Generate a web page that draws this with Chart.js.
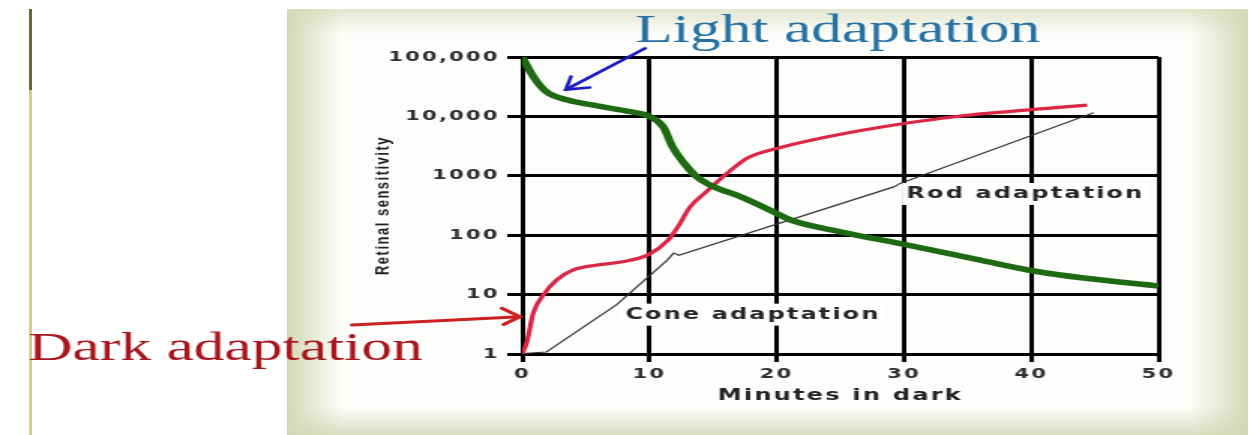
<!DOCTYPE html>
<html>
<head>
<meta charset="utf-8">
<title>Dark and light adaptation</title>
<script src="https://cdn.jsdelivr.net/npm/chart.js@4.4.1/dist/chart.umd.min.js"></script>
<style>
  html, body { margin: 0; padding: 0; background: #fff; }
  body { width: 1250px; height: 435px; position: relative; overflow: hidden; }
  .rule { position: absolute; left: 29px; width: 3px; }
  .rule.top { top: 9px; height: 81px; background: #6d6828; }
  .rule.bottom { top: 90px; height: 345px; background: #d3cf86; }
  #panel {
    position: absolute; left: 287px; top: 9px; width: 961px; height: 426px;
    background:
      linear-gradient(to right, #d3d9b5 0, rgba(255,255,255,0) 55px),
      linear-gradient(to left, #d3d9b5 0, rgba(255,255,255,0) 58px),
      linear-gradient(to bottom, #e2e6cd 0, rgba(255,255,255,0) 26px),
      linear-gradient(to top, #d9dec0 0, rgba(255,255,255,0) 28px),
      #fdfdfb;
  }
  /* the whole figure is stretched sideways, like the slide it came from */
  #stretch { position: absolute; left: 0; top: 0; transform-origin: 0 0; transform: scaleX(1.5006); }
</style>
</head>
<body>
<div class="rule top"></div>
<div class="rule bottom"></div>
<div id="panel"></div>
<div id="stretch"><canvas id="adaptChart" width="833" height="435"></canvas></div>
<script>
// axis ticks
const minuteTicks = [0, 10, 20, 30, 40, 50];
const sensitivityTicks = [1, 10, 100, 1000, 10000, 100000];
const sensitivityLabels = ['1', '10', '100', '1000', '10,000', '100,000'];

// light adaptation (green)
const lightMinutes = [0, 0.9, 1.9, 3.5, 5.9, 8.5, 10, 11.1, 11.8, 12.7, 13.7, 15, 17.1, 20, 21.1, 25, 30.3, 36, 40.2, 44.3, 50];
const lightSensitivity = [100000, 46000, 26000, 19000, 15000, 12000, 10000, 6600, 3100, 1650, 970, 660, 450, 233, 180, 114, 68, 38, 25, 18.8, 14];

// dark adaptation (red)
const darkMinutes = [0, 0.37, 0.87, 1.68, 2.7, 4, 5.9, 8, 10, 11.4, 12.2, 13.2, 14.3, 16.1, 17.7, 20.3, 25, 30, 33, 36, 40, 44.4];
const darkSensitivity = [1, 1.6, 4.9, 10, 17.6, 26, 31.5, 36, 48, 80, 135, 300, 500, 1100, 2000, 3000, 5000, 7600, 9300, 11000, 13000, 15500];

// cone / rod guide line (thin black)
const guideMinutes = [0.35, 1.9, 6.9, 7.4, 11.4, 11.9, 12.3, 29.2, 29.7, 44.9];
const guideSensitivity = [1.03, 1.08, 5.7, 6.7, 38, 50, 46, 650, 745, 11500];

const notes = [
    { text: 'Cone adaptation', minute: 8.1, value: 4.6 },
    { text: 'Rod adaptation', minute: 30.2, value: 495 }
];

const toPoints = (xs, ys) => xs.map((x, i) => ({ x, y: ys[i] }));

function arrow(ctx, color, width, tail, tip, barbA, barbB) {
    ctx.strokeStyle = color;
    ctx.lineWidth = width;
    ctx.lineCap = 'round';
    ctx.lineJoin = 'miter';
    ctx.beginPath();
    ctx.moveTo(tail[0], tail[1]);
    ctx.lineTo(tip[0], tip[1]);
    ctx.stroke();
    ctx.beginPath();
    ctx.moveTo(barbA[0], barbA[1]);
    ctx.lineTo(tip[0], tip[1]);
    ctx.lineTo(barbB[0], barbB[1]);
    ctx.stroke();
}

const annotate = {
    id: 'annotate',
    beforeDraw(chart) {
        chart.ctx.letterSpacing = '1.5px';
    },
    beforeDatasetsDraw(chart) {
        const { ctx, scales: { x, y } } = chart;
        ctx.save();
        ctx.font = 'bold 16px "DejaVu Sans"';
        ctx.letterSpacing = '1.4px';
        ctx.textAlign = 'left';
        ctx.textBaseline = 'middle';
        notes.forEach(n => {
            const px = x.getPixelForValue(n.minute);
            const py = y.getPixelForValue(n.value);
            const w = ctx.measureText(n.text).width;
            ctx.fillStyle = '#fff';
            ctx.fillRect(px - 3, py - 11, w + 5, 22);
            ctx.fillStyle = '#262626';
            ctx.fillText(n.text, px, py);
        });
        ctx.restore();
    },
    afterDraw(chart) {
        const ctx = chart.ctx;
        ctx.save();
        ctx.letterSpacing = '0px';
        ctx.font = '41px "Liberation Serif"';
        ctx.textAlign = 'left';
        ctx.textBaseline = 'alphabetic';
        ctx.fillStyle = '#2471a3';
        ctx.fillText('Light adaptation', 423.3, 41.7);
        ctx.fillStyle = '#a8151b';
        ctx.fillText('Dark adaptation', 18.7, 360);

        arrow(ctx, '#1c1cc4', 2.6, [430, 48.3], [377, 89.6], [380.5, 76.5], [393, 87.5]);
        arrow(ctx, '#cc2020', 3, [234.5, 325], [346.5, 316.7], [334.4, 308.3], [335.6, 324.5]);
        ctx.restore();
    }
};

new Chart(document.getElementById('adaptChart'), {
    type: 'line',
    data: {
        datasets: [
            {
                label: 'Light adaptation',
                data: toPoints(lightMinutes, lightSensitivity),
                borderColor: '#1d6a12',
                borderWidth: 5.5,
                pointRadius: 0,
                cubicInterpolationMode: 'monotone'
            },
            {
                label: 'Dark adaptation',
                data: toPoints(darkMinutes, darkSensitivity),
                borderColor: '#dc2646',
                borderWidth: 3.2,
                pointRadius: 0,
                cubicInterpolationMode: 'monotone'
            },
            {
                label: 'Cone and rod adaptation',
                data: toPoints(guideMinutes, guideSensitivity),
                borderColor: '#333',
                borderWidth: 1.2,
                pointRadius: 0,
                tension: 0
            }
        ]
    },
    options: {
        responsive: false,
        animation: false,
        events: [],
        layout: {
            padding: { left: 240, right: 61, top: 57, bottom: 21 }
        },
        plugins: {
            legend: { display: false },
            tooltip: { enabled: false }
        },
        scales: {
            x: {
                type: 'linear',
                min: 0,
                max: 50,
                afterBuildTicks: s => { s.ticks = minuteTicks.map(v => ({ value: v })); },
                afterFit: s => { s.height = 60; },
                grid: { color: '#000', lineWidth: 3, tickLength: 8 },
                border: { color: '#000', width: 3 },
                ticks: {
                    color: '#2e2e2e',
                    font: { family: 'DejaVu Sans', size: 14, weight: 'bold' },
                    padding: 4,
                    maxRotation: 0
                },
                title: {
                    display: true,
                    text: 'Minutes in dark',
                    color: '#222',
                    font: { family: 'DejaVu Sans', size: 16, weight: 'bold' },
                    padding: { top: 0, bottom: 9 }
                }
            },
            y: {
                type: 'logarithmic',
                min: 1,
                max: 100000,
                afterBuildTicks: s => { s.ticks = sensitivityTicks.map(v => ({ value: v })); },
                afterFit: s => { s.width = 108; },
                grid: { color: '#000', lineWidth: 3, tickLength: 10 },
                border: { color: '#000', width: 3 },
                ticks: {
                    color: '#2e2e2e',
                    font: { family: 'DejaVu Sans', size: 14, weight: 'bold' },
                    padding: 5,
                    callback: (value, index) => sensitivityLabels[index]
                },
                title: {
                    display: true,
                    text: 'Retinal sensitivity',
                    color: '#222',
                    font: { family: 'Liberation Sans', size: 13, weight: 'bold' },
                    padding: { top: 8, bottom: 0 }
                }
            }
        }
    },
    plugins: [annotate]
});
</script>
</body>
</html>
